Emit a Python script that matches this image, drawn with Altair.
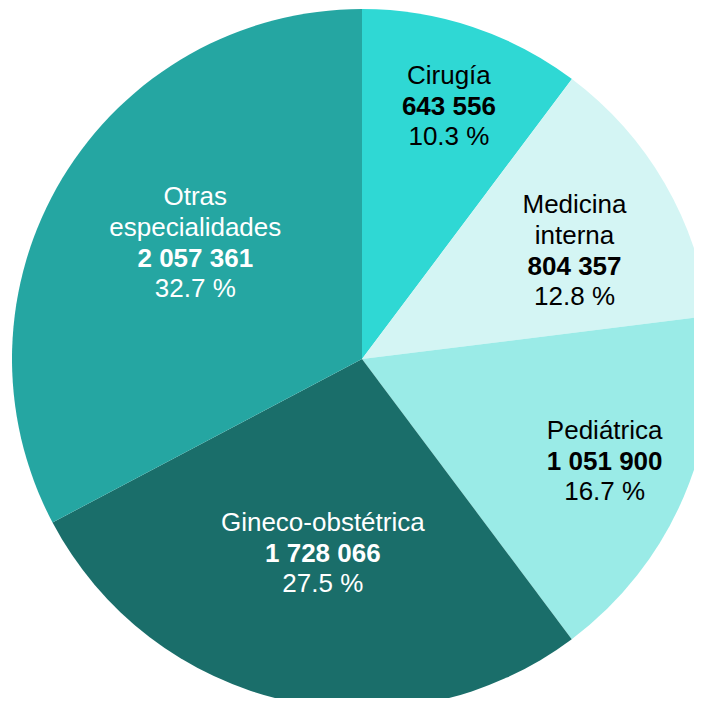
import altair as alt
import pandas as pd

# ---- data ----
categories = ["Cirugía", "Medicina interna", "Pediátrica", "Gineco-obstétrica", "Otras especialidades"]
name_line_above2 = ["", "Medicina", "", "", "Otras"]
name_line_above1 = ["Cirugía", "interna", "Pediátrica", "Gineco-obstétrica", "especialidades"]
values = [643556, 804357, 1051900, 1728066, 2057361]
pct_labels = ["10.3 %", "12.8 %", "16.7 %", "27.5 %", "32.7 %"]

# ---- styles ----
colors = ["#2fd8d4", "#d4f5f4", "#9aebe7", "#1a6e6a", "#25a6a2"]
text_colors = ["#000000", "#000000", "#000000", "#ffffff", "#ffffff"]
# label placement: (radius, dx, dy) relative to the slice's mid angle
label_style = [(259, 5, 2), (226, 17, 29), (267, -3, 6), (206, 6, 2), (190, -4, 6)]

CX, CY, R = 354, 351, 350
FONT = "Liberation Sans"
FS = 26

df = pd.DataFrame({
    "idx": list(range(len(categories))),
    "cat": categories,
    "value": values,
    "vlabel": [f"{v:,}".replace(",", " ") for v in values],
    "pct": pct_labels,
    "above1": name_line_above1,
    "above2": name_line_above2,
})

base = alt.Chart(df)

arcs = base.mark_arc(radius=R).encode(
    theta=alt.Theta("value:Q", stack=True),
    color=alt.Color("cat:N", scale=alt.Scale(domain=categories, range=colors), legend=None),
    order=alt.Order("idx:Q"),
    x=alt.value(CX),
    y=alt.value(CY),
)

lab = base.transform_joinaggregate(
    total="sum(value)"
).transform_window(
    cum="sum(value)", sort=[alt.SortField("idx", order="ascending")], frame=[None, 0]
).transform_calculate(
    ang="2*PI*(datum.cum - datum.value/2)/datum.total"
)

layers = [arcs]
roles = [("above2", -62, "normal"), ("above1", -31, "normal"), ("vlabel", 0, "bold"), ("pct", 30, "normal")]
for i, cat in enumerate(categories):
    r, dx, dy = label_style[i]
    sub = lab.transform_filter(alt.datum.cat == cat)
    for field, off, weight in roles:
        layers.append(
            sub.mark_text(
                radius=r, dx=dx, dy=dy + off, font=FONT, fontSize=FS, fontWeight=weight,
                color=text_colors[i], align="center", baseline="alphabetic",
            ).encode(
                theta=alt.Theta("ang:Q", scale=None, stack=False),
                text=alt.Text(f"{field}:N"),
                x=alt.value(CX),
                y=alt.value(CY),
            )
        )

chart = alt.layer(*layers).properties(
    width=686, height=690, padding=0,
    autosize=alt.AutoSizeParams(type="none"),
).configure_view(strokeWidth=0)

chart.save("out.html", embed_options={"renderer": "svg", "actions": False})
